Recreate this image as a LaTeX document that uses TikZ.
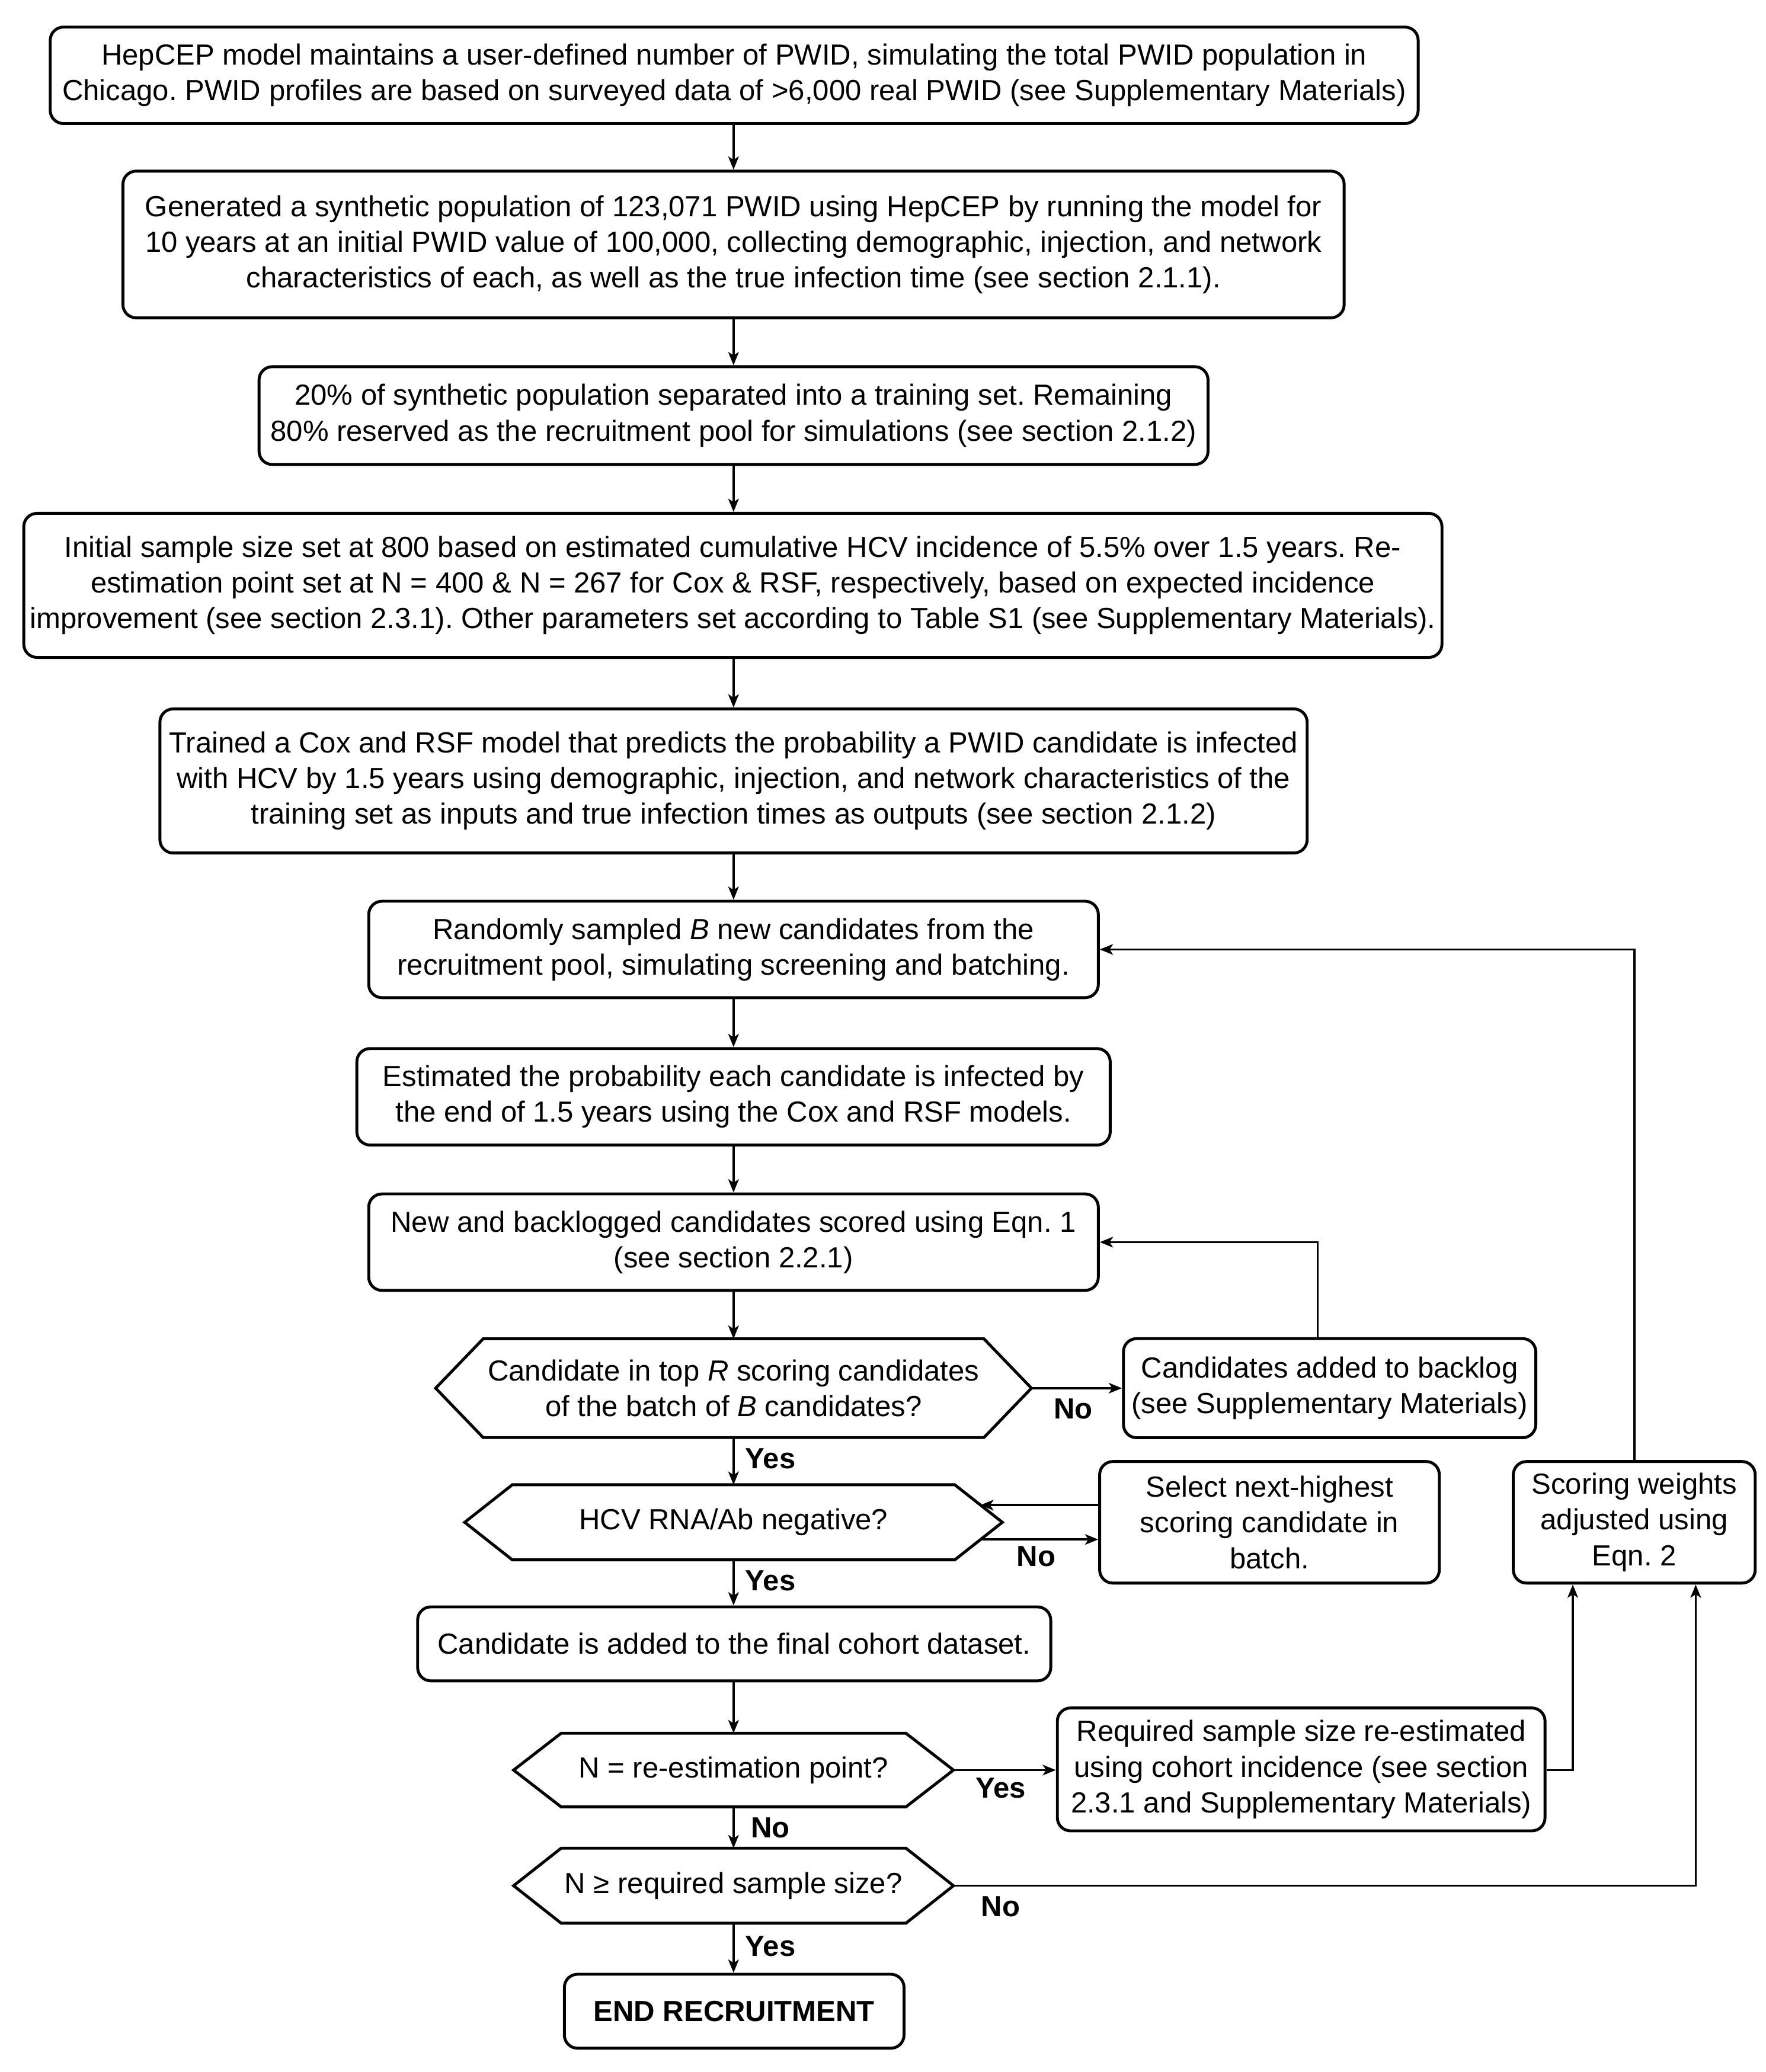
\documentclass[tikz,border=0pt]{standalone}
\usepackage{fontspec}
\setmainfont{Liberation Sans}
\usetikzlibrary{arrows.meta,calc}
\frenchspacing
\tikzset{
  boxline/.style={draw=black, line width=1.1pt},
  procbox/.style={boxline, rounded corners=5pt, inner sep=0pt, align=center,
    font=\fontsize{11pt}{13.5pt}\selectfont},
  decbox/.style={inner sep=0pt, align=center, font=\fontsize{11pt}{13.5pt}\selectfont},
  arr/.style={draw=black, line width=0.8pt, -{Stealth[length=5pt,width=4pt,inset=1.3pt]}},
  plain/.style={draw=black, line width=0.8pt},
  lbl/.style={font=\fontsize{11pt}{13.5pt}\selectfont\bfseries, inner sep=0pt}
}
\newcommand\hexof[1]{\draw[boxline] (#1.west) -- ($(#1.north west)+(36,0)$) -- ($(#1.north east)+(-36,0)$) -- (#1.east) -- ($(#1.south east)+(-36,0)$) -- ($(#1.south west)+(36,0)$) -- cycle;}
\begin{document}
\begin{tikzpicture}[x=0.5pt,y=-0.5pt]
\useasboundingbox (0,0) rectangle (1336,1568);
\fill[white] (0,0) rectangle (1336,1568);

\node[procbox, minimum width=517.5pt, minimum height=36.5pt] (b1) at (555.5,57)
 {HepCEP model maintains a user-defined number of PWID, simulating the total PWID population in\\
  Chicago. PWID profiles are based on surveyed data of >6,000 real PWID (see Supplementary Materials)};
\node[procbox, minimum width=462pt, minimum height=55.5pt] (b2) at (555,185)
 {Generated a synthetic population of 123,071 PWID using HepCEP by running the model for\\
  10 years at an initial PWID value of 100,000, collecting demographic, injection, and network\\
  characteristics of each, as well as the true infection time (see section 2.1.1).};
\node[procbox, minimum width=359pt, minimum height=37pt] (b3) at (555,314.5)
 {20\% of synthetic population separated into a training set. Remaining\\
  80\% reserved as the recruitment pool for simulations (see section 2.1.2)};
\node[procbox, minimum width=536.5pt, minimum height=54.5pt] (b4) at (554.5,443)
 {Initial sample size set at 800 based on estimated cumulative HCV incidence of 5.5\% over 1.5 years. Re-\\
  estimation point set at N = 400 \& N = 267 for Cox \& RSF, respectively, based on expected incidence\\
  improvement (see section 2.3.1). Other parameters set according to Table S1 (see Supplementary Materials).};
\node[procbox, minimum width=434pt, minimum height=54.5pt] (b5) at (555,591)
 {Trained a Cox and RSF model that predicts the probability a PWID candidate is infected\\
  with HCV by 1.5 years using demographic, injection, and network characteristics of the\\
  training set as inputs and true infection times as outputs (see section 2.1.2)};
\node[procbox, minimum width=276pt, minimum height=36.5pt] (b6) at (555,718.5)
 {Randomly sampled \textit{B} new candidates from the\\
  recruitment pool, simulating screening and batching.};
\node[procbox, minimum width=285pt, minimum height=36.5pt] (b7) at (555,830)
 {Estimated the probability each candidate is infected by\\
  the end of 1.5 years using the Cox and RSF models.};
\node[procbox, minimum width=276pt, minimum height=36.5pt] (b8) at (555,940)
 {New and backlogged candidates scored using Eqn. 1\\
  (see section 2.2.1)};

\node[decbox, minimum width=225pt, minimum height=37pt] (d1) at (555,1050.5)
 {Candidate in top \textit{R} scoring candidates\\
  of the batch of \textit{B} candidates?};
\hexof{d1}
\node[procbox, minimum width=156pt, minimum height=37.5pt] (bl) at (1006,1050.5)
 {Candidates added to backlog\\
  (see Supplementary Materials)};

\node[decbox, minimum width=203pt, minimum height=28pt] (d2) at (555,1152)
 {HCV RNA/Ab negative?};
\hexof{d2}
\node[procbox, minimum width=128.5pt, minimum height=46pt] (sel) at (960.5,1152)
 {Select next-highest\\ scoring candidate in\\ batch.};
\node[procbox, minimum width=91.5pt, minimum height=46pt] (sw) at (1236.5,1152)
 {Scoring weights\\ adjusted using\\ Eqn. 2};

\node[procbox, minimum width=239.5pt, minimum height=28pt] (b9) at (555.5,1244)
 {Candidate is added to the final cohort dataset.};

\node[decbox, minimum width=166pt, minimum height=27.5pt] (d3) at (555,1339.5)
 {N = re-estimation point?};
\hexof{d3}
\node[procbox, minimum width=184.5pt, minimum height=46.5pt] (req) at (984.5,1339)
 {Required sample size re-estimated\\
  using cohort incidence (see section\\
  2.3.1 and Supplementary Materials)};

\node[decbox, minimum width=166pt, minimum height=28pt] (d4) at (555,1427)
 {N ≥ required sample size?};
\hexof{d4}

\node[procbox, minimum width=128.5pt, minimum height=28pt, font=\fontsize{11pt}{13.5pt}\selectfont\bfseries] (end) at (555.5,1522)
 {END RECRUITMENT};

% main flow
\draw[arr] (b1.south -| 555,0) -- (555,0 |- b2.north);
\draw[arr] (b2) -- (b3);
\draw[arr] (b3.south -| 555,0) -- (555,0 |- b4.north);
\draw[arr] (b4.south -| 555,0) -- (555,0 |- b5.north);
\draw[arr] (b5) -- (b6);
\draw[arr] (b6) -- (b7);
\draw[arr] (b7) -- (b8);
\draw[arr] (b8) -- (d1);
\draw[arr] (d1) -- (d2);
\draw[arr] (d2.south) -- (555,0 |- b9.north);
\draw[arr] (b9.south -| 555,0) -- (d3.north);
\draw[arr] (d3) -- (d4);
\draw[arr] (d4.south) -- (555,0 |- end.north);

% side branches
\draw[arr] (d1.east) -- (d1.east -| bl.west);
\draw[arr] ($(bl.north)+(-9,0)$) |- (b8.east);
\draw[arr] ($(sel.west)+(0,-13)$) -- ($(d2.east)+(-16.7,-13)$);
\draw[arr] ($(d2.east)+(-16.7,13)$) -- ($(sel.west)+(0,13)$);
\draw[arr] (sw.north) |- (b6.east);
\draw[arr] (d3.east) -- (d3.east -| req.west);
\draw[arr] (d3.east -| req.east) -| ($(sw.south)+(-46.5,0)$);
\draw[arr] (d4.east) -| ($(sw.south)+(46.5,0)$);

% labels
\node[lbl] (l1) at (812,1066) {No};
\node[lbl] (l2) at (583,1104) {Yes};
\node[lbl] (l3) at (784,1178) {No};
\node[lbl] (l4) at (583,1196) {Yes};
\node[lbl] (l5) at (757,1353) {Yes};
\node[lbl] (l6) at (583,1383) {No};
\node[lbl] (l7) at (757,1443) {No};
\node[lbl] (l8) at (583,1473) {Yes};
\end{tikzpicture}
\end{document}
